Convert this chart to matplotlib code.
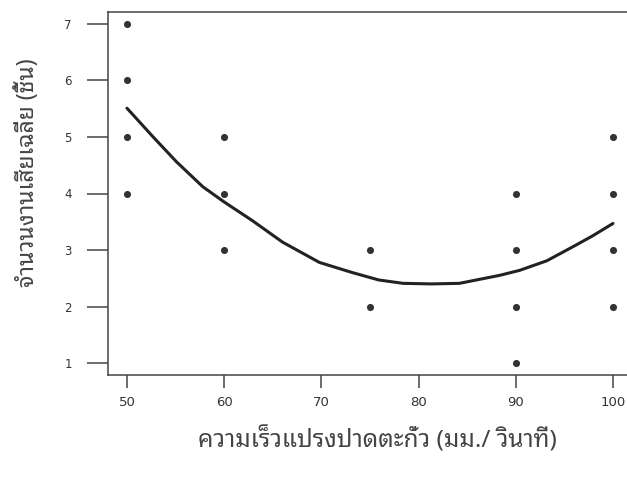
import matplotlib
matplotlib.use("Agg")
import matplotlib.pyplot as plt

# ---- data ----
scatter_x = [50, 50, 50, 50, 60, 60, 60, 75, 75, 90, 90, 90, 90, 100, 100, 100, 100]
scatter_y = [7, 6, 5, 4, 5, 4, 3, 3, 2, 4, 3, 2, 1, 5, 4, 3, 2]
curve_x = [50, 52.7, 55.1, 57.8, 60.0, 62.9, 66.0, 69.8, 73.2, 75.9, 78.4,
           81.3, 84.2, 88.3, 90.4, 93.2, 95.9, 97.9, 100]
curve_y = [5.51, 5.00, 4.56, 4.12, 3.85, 3.52, 3.14, 2.78, 2.60, 2.47, 2.41,
           2.40, 2.41, 2.55, 2.64, 2.81, 3.06, 3.25, 3.47]
x_ticks = [50, 60, 70, 80, 90, 100]
y_ticks = [1, 2, 3, 4, 5, 6, 7]
y_tick_labels = ["1", "2", "3", "4", "5", "6", "7"]
x_label = "ความเร็วแปรงปาดตะกั่ว (มม./ วินาที)"
y_label = "จำนวนงานเสียเฉลี่ย (ชิ้น)"

W, H = 627, 487
fig = plt.figure(figsize=(W / 100, H / 100), dpi=100)
fig.patch.set_facecolor("white")
ax = fig.add_axes([108 / W, 1 - 375 / H, 1 - 108 / W, (375 - 12) / H])

ax.plot(curve_x, curve_y, color="#222222", lw=2.2, solid_capstyle="round",
        solid_joinstyle="round", zorder=3)
ax.scatter(scatter_x, scatter_y, s=26, color="#333333", zorder=4, linewidths=0)

ax.set_xlim(48.05, 101.44)
ax.set_ylim(0.788, 7.212)
ax.set_xticks(x_ticks)
ax.set_xticklabels([str(v) for v in x_ticks])
ax.set_yticks(y_ticks)
ax.set_yticklabels(y_tick_labels)

for s in ["left", "bottom", "top"]:
    ax.spines[s].set_color("#444444")
    ax.spines[s].set_linewidth(1.1)
ax.spines["right"].set_visible(False)

ax.tick_params(axis="y", direction="out", length=15, width=1.1, color="#444444",
               pad=11, labelsize=8.5, labelcolor="#333333")
ax.tick_params(axis="x", direction="out", length=9.4, width=1.1, color="#444444",
               pad=6, labelsize=9.5, labelcolor="#333333")

thai = ["Noto Sans Thai Looped", "DejaVu Sans"]
fig.text(377 / W, 1 - 440 / H, x_label, ha="center", va="center",
         fontsize=17.5, family=thai, weight="light", color="#444444")
fig.text(28 / W, 1 - 173 / H, y_label, ha="center", va="center", rotation=90,
         fontsize=16.5, family=thai, weight="light", color="#444444")

fig.savefig("out.png", dpi=100)
